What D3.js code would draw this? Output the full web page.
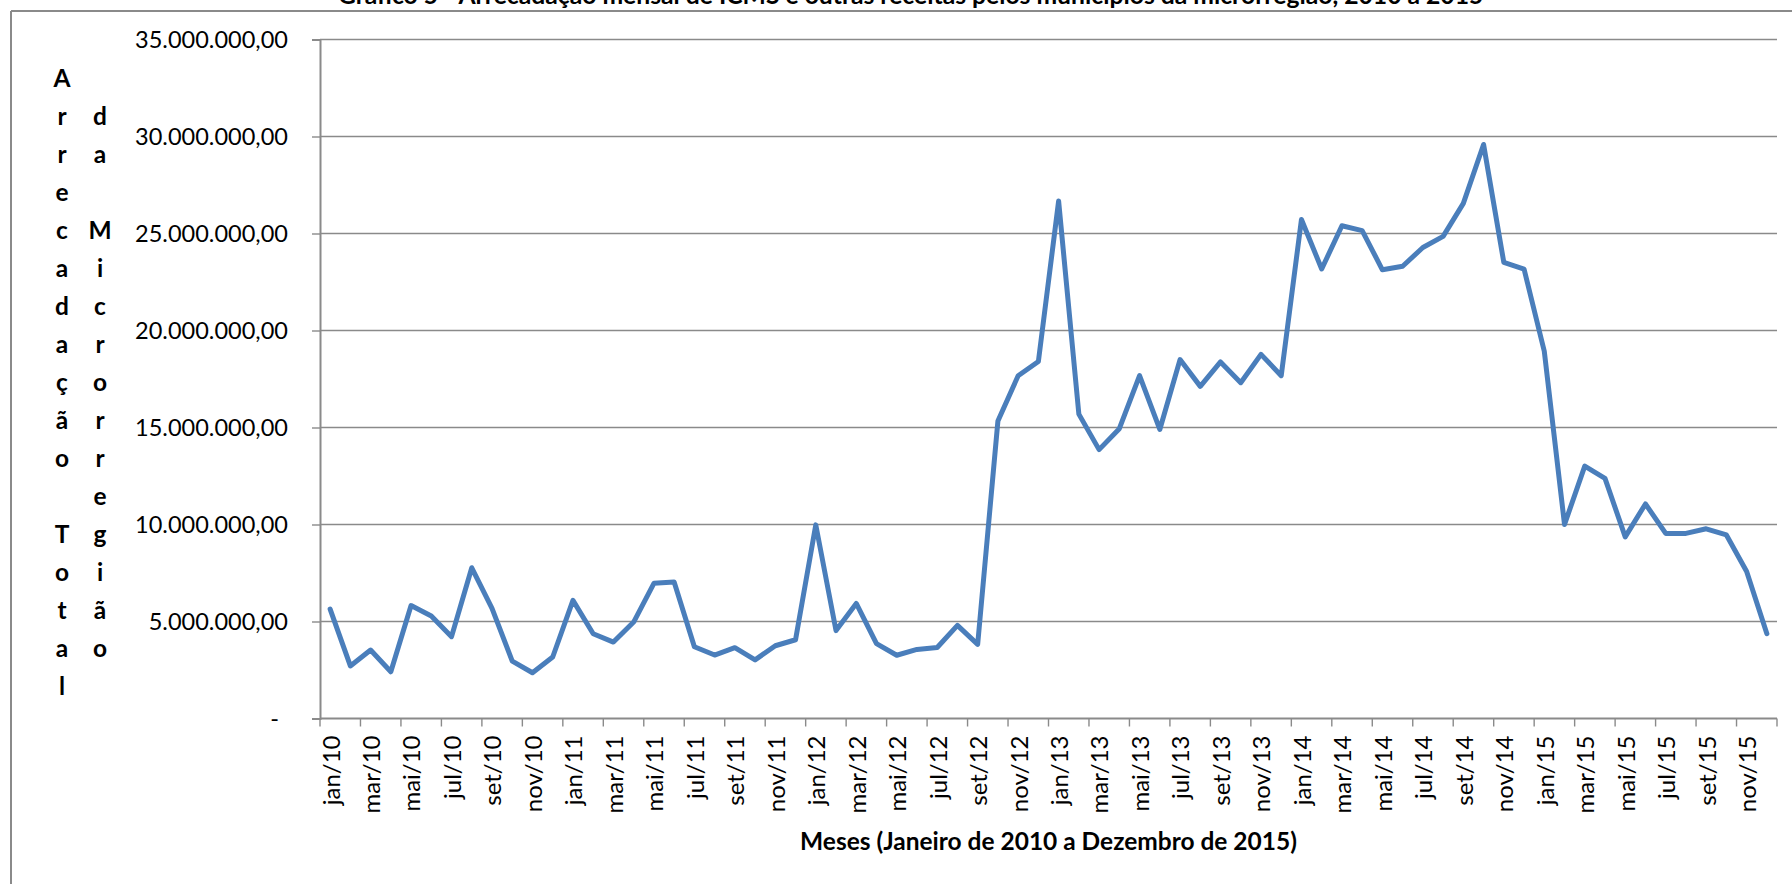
<!DOCTYPE html>
<html>
<head>
<meta charset="utf-8">
<script src="https://cdn.jsdelivr.net/npm/d3@7"></script>
<style>
  html, body { margin: 0; padding: 0; background: #ffffff; }
  svg { display: block; }
  text { font-family: Lato, "Open Sans", sans-serif; fill: #000; }
</style>
</head>
<body>
<svg id="chart" width="1792" height="884"></svg>
<script>
// ---------- DATA ----------
const years = ["10", "11", "12", "13", "14", "15"];
const monthNames = ["jan", "fev", "mar", "abr", "mai", "jun", "jul", "ago", "set", "out", "nov", "dez"];
const categories = years.flatMap(y => monthNames.map(m => m + "/" + y));

const values2010 = [5640000, 2710000, 3530000, 2410000, 5820000, 5280000, 4220000, 7770000, 5680000, 2960000, 2360000, 3170000];
const values2011 = [6090000, 4370000, 3940000, 4970000, 6970000, 7040000, 3700000, 3270000, 3650000, 3020000, 3750000, 4060000];
const values2012 = [9980000, 4530000, 5930000, 3860000, 3260000, 3560000, 3660000, 4800000, 3820000, 15340000, 17670000, 18400000];
const values2013 = [26670000, 15690000, 13860000, 14940000, 17670000, 14900000, 18500000, 17120000, 18380000, 17310000, 18770000, 17670000];
const values2014 = [25720000, 23170000, 25400000, 25150000, 23130000, 23310000, 24280000, 24850000, 26550000, 29590000, 23510000, 23170000];
const values2015 = [18930000, 10000000, 13010000, 12380000, 9360000, 11060000, 9540000, 9540000, 9780000, 9460000, 7580000, 4370000];
const seriesValues = [].concat(values2010, values2011, values2012, values2013, values2014, values2015);

const yTicks = [0, 5000000, 10000000, 15000000, 20000000, 25000000, 30000000, 35000000];
const xTickLabels = categories.filter((d, i) => i % 2 === 0);

const chartTitle = "Gráfico 5 - Arrecadação mensal de ICMS e outras receitas pelos municípios da microrregião, 2010 a 2015";
const xAxisTitle = "Meses (Janeiro de 2010 a Dezembro de 2015)";
const yTitleCol1 = "Arrecadação Total";
const yTitleCol2 = " da Microrregião";

// ---------- LAYOUT ----------
const svg = d3.select("#chart");
const plot = { left: 320, right: 1777, top: 39.5, bottom: 718.5 };
const gridColor = "#8a8a8a";
const lineColor = "#4a7ebb";

const x = d3.scaleBand().domain(categories).range([plot.left, plot.right]).paddingInner(0).paddingOuter(0);
const y = d3.scaleLinear().domain([0, 35000000]).range([plot.bottom, plot.top]);

const ptBR = d3.formatLocale({ decimal: ",", thousands: ".", grouping: [3], currency: ["R$", ""] });
const fmt = ptBR.format(",.2f");
const yLabel = v => v === 0 ? "-" : fmt(v);

// helper: font size so a sample string has a given width
function fitSize(sample, target, weight) {
  const t = svg.append("text").attr("font-size", 100).attr("font-weight", weight).text(sample);
  const w = t.node().getComputedTextLength();
  t.remove();
  return 100 * target / w;
}
const tickSize = fitSize("35.000.000,00", 153, "normal");
const xTickSize = fitSize("mar/10", 78, "normal");
const axisTitleSize = fitSize(xAxisTitle, 497, "bold");
const titleSize = fitSize(chartTitle, 1146, "bold");

// ---------- CHART AREA BORDER ----------
svg.append("line").attr("x1", 11).attr("x2", 1792).attr("y1", 11).attr("y2", 11)
  .attr("stroke", gridColor).attr("stroke-width", 2);
svg.append("line").attr("x1", 11).attr("x2", 11).attr("y1", 11).attr("y2", 884)
  .attr("stroke", gridColor).attr("stroke-width", 2);

// Title (partially cut off at top, as in the source)
svg.append("text").attr("x", 338).attr("y", 4)
  .attr("font-size", titleSize).attr("font-weight", "bold")
  .text(chartTitle);

// ---------- GRIDLINES ----------
svg.append("g").selectAll("line").data(yTicks.filter(d => d > 0)).join("line")
  .attr("x1", plot.left).attr("x2", plot.right)
  .attr("y1", d => y(d)).attr("y2", d => y(d))
  .attr("stroke", gridColor).attr("stroke-width", 1.4);

// ---------- Y AXIS ----------
const yAxis = d3.axisLeft(y).tickValues(yTicks).tickSize(8).tickPadding(24).tickFormat(yLabel);
const gy = svg.append("g").attr("transform", `translate(${plot.left},0)`).call(yAxis);
gy.select(".domain").attr("stroke", gridColor).attr("stroke-width", 2);
gy.selectAll(".tick line").attr("stroke", gridColor).attr("stroke-width", 1.4);
gy.selectAll(".tick text").attr("font-size", tickSize).attr("font-family", "Lato, sans-serif").attr("fill", "#000")
  .attr("dx", d => d === 0 ? -9 : 0);

// ---------- X AXIS ----------
const gx = svg.append("g").attr("transform", `translate(0,${plot.bottom})`);
gx.append("line").attr("x1", plot.left).attr("x2", plot.right).attr("y1", 0).attr("y2", 0)
  .attr("stroke", gridColor).attr("stroke-width", 2);
const boundaries = d3.range(0, categories.length + 1, 2);
gx.selectAll(".xtick").data(boundaries).join("line").attr("class", "xtick")
  .attr("x1", i => i < categories.length ? x(categories[i]) : plot.right)
  .attr("x2", i => i < categories.length ? x(categories[i]) : plot.right)
  .attr("y1", 0).attr("y2", 8)
  .attr("stroke", gridColor).attr("stroke-width", 1.4);
gx.selectAll(".xlabel").data(xTickLabels).join("text").attr("class", "xlabel")
  .attr("transform", d => `translate(${x(d) + x.bandwidth() / 2 + 1},17) rotate(-90)`)
  .attr("text-anchor", "end").attr("dy", "0.35em")
  .attr("font-size", xTickSize)
  .text(d => d);

// X axis title
svg.append("text").attr("x", (plot.left + plot.right) / 2).attr("y", 850)
  .attr("text-anchor", "middle").attr("font-weight", "bold").attr("font-size", axisTitleSize)
  .text(xAxisTitle);

// Y axis title (stacked letters, two columns)
const rowH = 38, firstBaseline = 87;
[[yTitleCol1, 62], [yTitleCol2, 100]].forEach(([txt, cx]) => {
  svg.append("g").selectAll("text").data(Array.from(txt)).join("text")
    .attr("x", cx).attr("y", (d, i) => firstBaseline + i * rowH)
    .attr("text-anchor", "middle").attr("font-weight", "bold").attr("font-size", axisTitleSize)
    .text(d => d.trim());
});

// ---------- LINE ----------
const line = d3.line()
  .x((d, i) => x(categories[i]) + x.bandwidth() / 2)
  .y(d => y(d));
svg.append("path").datum(seriesValues)
  .attr("d", line)
  .attr("fill", "none").attr("stroke", lineColor).attr("stroke-width", 5)
  .attr("stroke-linejoin", "round").attr("stroke-linecap", "round");
</script>
</body>
</html>
